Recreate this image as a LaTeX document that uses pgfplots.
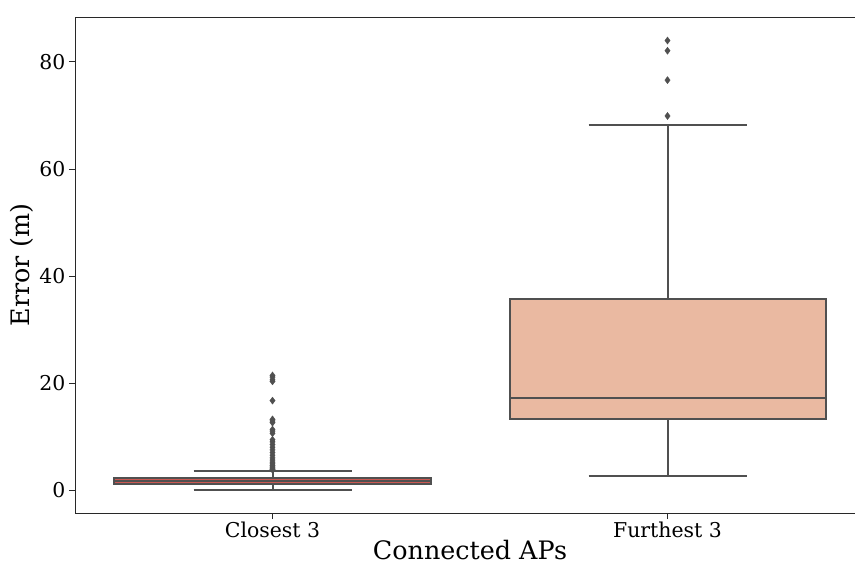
\documentclass[border=0pt]{standalone}
\usepackage{fontspec}
\setmainfont{DejaVu Serif}
\usepackage{pgfplots}
\pgfplotsset{compat=1.18}
\definecolor{boxline}{RGB}{80,80,80}
\definecolor{boxA}{RGB}{205,88,82}
\definecolor{boxB}{RGB}{234,185,161}
\definecolor{spinec}{RGB}{40,40,40}
\tikzset{bl/.style={no marks, draw=boxline, line width=2bp}}
\begin{document}
\begin{tikzpicture}
\begin{axis}[
  name=ax,
  scale only axis,
  width=790bp, height=496bp,
  xmin=-0.5, xmax=1.5,
  ymin=-4.3, ymax=88.4,
  xtick={0,1}, xticklabels={Closest 3, Furthest 3},
  ytick={0,20,40,60,80},
  tick align=outside,
  tick pos=left,
  major tick length=6bp,
  axis line style={spinec, line width=0.9bp},
  tick style={spinec, line width=0.9bp},
  /pgf/number format/assume math mode=true,
  tick label style={font=\fontsize{20.5}{24}\selectfont, text=black},
  xticklabel style={yshift=1bp},
  label style={font=\fontsize{25.5}{30}\selectfont},
  xlabel={Connected APs},
  ylabel={Error (m)},
  xlabel style={yshift=4bp},
  ylabel style={yshift=-1bp},
]
% Closest 3: whiskers, caps, box, median
\addplot[bl] coordinates {(0,0.05) (0,1.12)};
\addplot[bl] coordinates {(0,2.2) (0,3.6)};
\addplot[bl] coordinates {(-0.2,0.05) (0.2,0.05)};
\addplot[bl] coordinates {(-0.2,3.6) (0.2,3.6)};
\addplot[bl, fill=boxA] coordinates {(-0.4,1.12) (0.4,1.12) (0.4,2.2) (-0.4,2.2)} -- cycle;
\addplot[bl] coordinates {(-0.4,1.6) (0.4,1.6)};
% Furthest 3
\addplot[bl] coordinates {(1,2.6) (1,13.2)};
\addplot[bl] coordinates {(1,35.7) (1,68.3)};
\addplot[bl] coordinates {(0.8,2.6) (1.2,2.6)};
\addplot[bl] coordinates {(0.8,68.3) (1.2,68.3)};
\addplot[bl, fill=boxB] coordinates {(0.6,13.2) (1.4,13.2) (1.4,35.7) (0.6,35.7)} -- cycle;
\addplot[bl] coordinates {(0.6,17.1) (1.4,17.1)};
% outliers
\addplot[only marks, mark=diamond*, mark size=3.6bp, mark options={fill=boxline, draw=boxline, line width=0.3bp}]
  table[row sep=\\] {x y\\ 0 21.4\\ 0 21.1\\ 0 20.6\\ 0 20.3\\ 0 16.7\\ 0 13.2\\ 0 12.9\\ 0 12.6\\ 0 11.3\\ 0 11.0\\ 0 10.6\\ 0 9.4\\ 0 9.0\\ 0 8.5\\ 0 8.0\\ 0 7.5\\ 0 7.0\\ 0 6.5\\ 0 6.0\\ 0 5.6\\ 0 5.2\\ 0 4.9\\ 0 4.6\\ 0 4.3\\ 0 4.1\\ 0 3.9\\ 0 3.8\\ 1 69.9\\ 1 76.6\\ 1 82.1\\ 1 84.0\\};
\end{axis}
\pgfresetboundingbox
\path (ax.south west) ++(-75bp,-52bp) rectangle ([shift={(-10bp,17bp)}]ax.north east);
\end{tikzpicture}
\end{document}
